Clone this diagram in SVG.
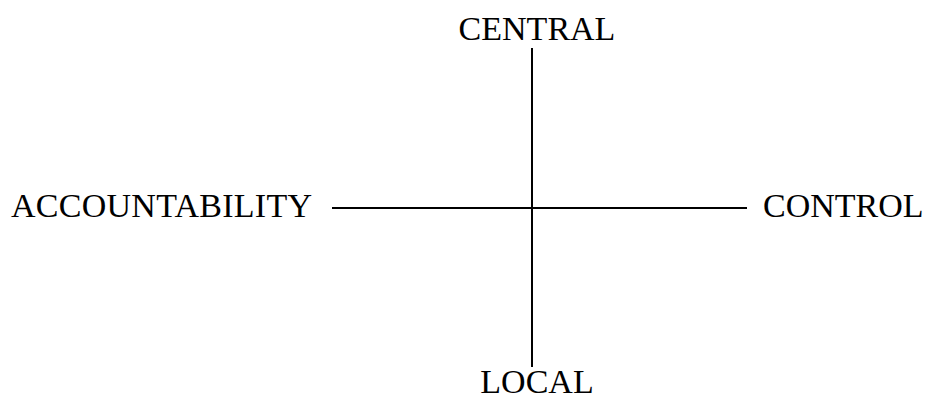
<svg xmlns="http://www.w3.org/2000/svg" width="928" height="401" viewBox="0 0 928 401">
<style>
text{font-family:"Liberation Serif","Times New Roman",serif;font-size:34px;fill:#000}
.ax{stroke:#000;stroke-width:2;fill:none}
</style>
<rect width="928" height="401" fill="#fff"/>
<g id="connectors">
<line class="ax" x1="532" y1="48" x2="532" y2="367"/>
<line class="ax" x1="332" y1="208" x2="747" y2="208"/>
</g>
<g id="central"><text x="537" y="40" text-anchor="middle">CENTRAL</text></g>
<g id="local"><text x="537" y="393" text-anchor="middle">LOCAL</text></g>
<g id="accountability"><text x="11" y="217" textLength="301" lengthAdjust="spacing">ACCOUNTABILITY</text></g>
<g id="control"><text x="763" y="217">CONTROL</text></g>
</svg>
